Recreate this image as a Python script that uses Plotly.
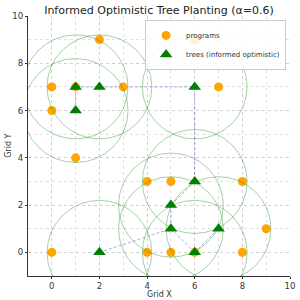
import plotly.graph_objects as go

# Data
program_x = [2, 0, 1, 3, 0, 1, 7, 6, 4, 5, 8, 9, 0, 4, 5, 6, 8]
program_y = [9, 7, 7, 7, 6, 4, 7, 9, 3, 3, 3, 1, 0, 0, 0, 0, 0]

tree_x = [1, 1, 2, 6, 6, 5, 5, 7, 6, 2]
tree_y = [7, 6, 7, 7, 3, 2, 1, 1, 0, 0]

# edges as index pairs into tree lists
edges = [(0, 2), (0, 1), (2, 3), (3, 4), (4, 5), (5, 6), (6, 8), (8, 7), (9, 6)]

coverage_radius = 2.2

title_text = "Informed Optimistic Tree Planting (α=0.6)"
x_label = "Grid X"
y_label = "Grid Y"
tick_vals = [0, 2, 4, 6, 8, 10]

fig = go.Figure()

# circles
for tx, ty in zip(tree_x, tree_y):
    fig.add_shape(type="circle", xref="x", yref="y",
                  x0=tx - coverage_radius, x1=tx + coverage_radius,
                  y0=ty - coverage_radius, y1=ty + coverage_radius,
                  line=dict(color="rgba(0,128,0,0.45)", width=0.8),
                  fillcolor="rgba(0,0,0,0)", layer="above")

# edges
for a, b in edges:
    fig.add_trace(go.Scatter(x=[tree_x[a], tree_x[b]], y=[tree_y[a], tree_y[b]],
                             mode="lines", showlegend=False, hoverinfo="skip",
                             line=dict(color="rgba(80,80,220,0.5)", width=1, dash="3px,2px")))

fig.add_trace(go.Scatter(x=program_x, y=program_y, mode="markers", name="programs",
                         marker=dict(color="#FFA500", size=9, symbol="circle")))
fig.add_trace(go.Scatter(x=tree_x, y=tree_y, mode="markers", name="trees (informed optimistic)",
                         marker=dict(color="#008000", size=11, symbol="triangle-up")))

axis_common = dict(
    tickvals=tick_vals, showgrid=True, gridcolor="#d0d0d0", griddash="dot", gridwidth=0.8,
    zeroline=False, showline=True, linecolor="#333333", linewidth=1.2,
    ticks="outside", ticklen=2, tickcolor="#333333", automargin=False,
    tickfont=dict(family="DejaVu Sans", size=8.5, color="#333333"),
    minor=dict(dtick=1, showgrid=True, gridcolor="#e0e0e0", griddash="dot", gridwidth=0.8),
    range=[-1, 10],
)

label_font = dict(family="DejaVu Sans", size=8, color="#333333")

fig.update_layout(
    width=300, height=300,
    margin=dict(l=28, r=10, t=16, b=24),
    paper_bgcolor="white", plot_bgcolor="white",
    title=dict(text=title_text, x=0.53, xanchor="center", y=0.98, yanchor="top",
               font=dict(family="DejaVu Sans", size=11, color="#222222"), automargin=False),
    xaxis=axis_common,
    yaxis=axis_common,
    legend=dict(x=0.985, y=0.985, xanchor="right", yanchor="top",
                bgcolor="rgba(255,255,255,0.85)", bordercolor="#cccccc", borderwidth=1,
                font=dict(family="DejaVu Sans", size=7, color="#333333"),
                tracegroupgap=0, itemwidth=30),
    showlegend=True,
    annotations=[
        dict(text=x_label, xref="paper", yref="paper", x=0.5, y=-0.072,
             xanchor="center", yanchor="middle", showarrow=False, font=label_font),
        dict(text=y_label, xref="paper", yref="paper", x=-0.077, y=0.5,
             xanchor="center", yanchor="middle", showarrow=False, textangle=-90, font=label_font),
    ],
)

fig.write_html("out.html")
